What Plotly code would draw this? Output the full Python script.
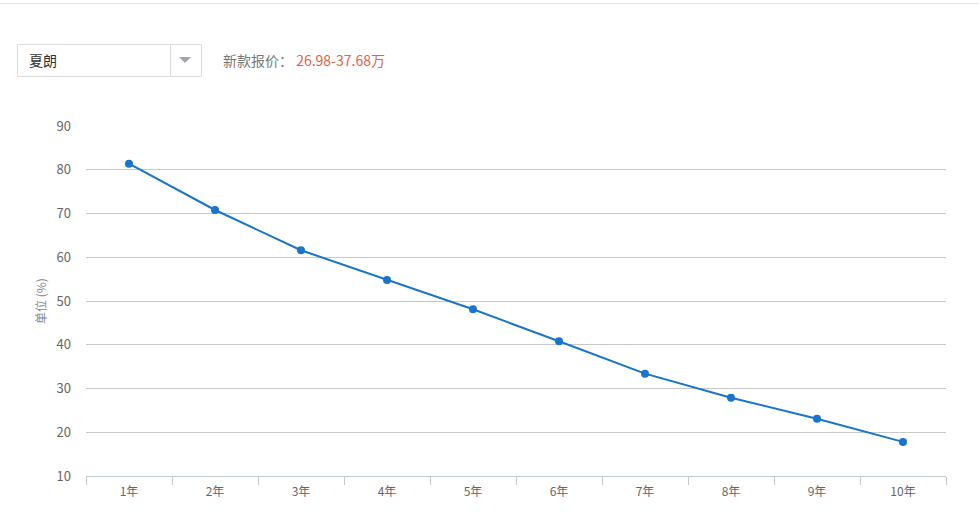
import plotly.graph_objects as go

categories = ["1年", "2年", "3年", "4年", "5年", "6年", "7年", "8年", "9年", "10年"]
values = [81.4, 70.8, 61.6, 54.8, 48.1, 40.8, 33.4, 27.9, 23.1, 17.8]
y_ticks = [10, 20, 30, 40, 50, 60, 70, 80, 90]

W, H = 979, 526
L, R, T, B = 86, 33, 126, 50
pw, ph = W - L - R, H - T - B


def px(x):
    return (x - L) / pw


def py(y):
    return (H - B - y) / ph


font = "Noto Sans CJK SC, Noto Sans, sans-serif"

fig = go.Figure()
fig.add_trace(go.Scatter(
    x=categories, y=values, mode="lines+markers",
    line=dict(color="#1874cd", width=2),
    marker=dict(color="#1874cd", size=8),
    hoverinfo="x+y", showlegend=False,
))

shapes = [
    # top separator line
    dict(type="line", xref="paper", yref="paper", x0=px(0), x1=px(W), y0=py(3.5), y1=py(3.5),
         line=dict(color="#e4e4e4", width=1)),
    # dropdown box
    dict(type="rect", xref="paper", yref="paper", x0=px(17.5), x1=px(201.5), y0=py(76.5), y1=py(44.5),
         line=dict(color="#dcdcdc", width=1), fillcolor="white"),
    dict(type="line", xref="paper", yref="paper", x0=px(170.5), x1=px(170.5), y0=py(76.5), y1=py(44.5),
         line=dict(color="#dcdcdc", width=1)),
    dict(type="path", xref="paper", yref="paper",
         path=f"M {px(179)} {py(57)} L {px(191)} {py(57)} L {px(185)} {py(63)} Z",
         line=dict(width=0), fillcolor="#a0a4ad"),
]

annotations = [
    dict(text="夏朗", xref="paper", yref="paper", x=px(27), y=py(60), xanchor="left", yanchor="middle",
         showarrow=False, font=dict(family=font, size=14, color="#333333")),
    dict(text='新款报价： <span style="color:#e8604a">26.98-37.68万</span>', xref="paper", yref="paper",
         x=px(221), y=py(60), xanchor="left", yanchor="middle",
         showarrow=False, font=dict(family=font, size=14, color="#777777")),
    dict(text="单位 (%)", xref="paper", yref="paper", x=px(40), y=0.5, xanchor="center", yanchor="middle",
         textangle=-90, showarrow=False, font=dict(family=font, size=12, color="#888888")),
]

fig.update_layout(
    width=W, height=H,
    margin=dict(l=L, r=R, t=T, b=B, pad=0),
    paper_bgcolor="white", plot_bgcolor="white",
    font=dict(family=font, size=12, color="#666666"),
    shapes=shapes, annotations=annotations,
    xaxis=dict(
        type="category", range=[-0.5, 9.5], tickson="boundaries",
        ticks="outside", ticklen=8, tickcolor="#c0c8d4", tickwidth=1,
        showline=True, linecolor="#c0c8d4", linewidth=1,
        showgrid=False, fixedrange=True, ticklabelstandoff=5,
        tickfont=dict(family=font, size=12, color="#666666"),
    ),
    yaxis=dict(
        range=[10, 90], tickvals=y_ticks, showgrid=True, gridcolor="#c8c8c8", gridwidth=1,
        zeroline=False, showline=False, ticks="", ticklabelstandoff=14,
        tickfont=dict(family=font, size=13, color="#666666"), fixedrange=True,
    ),
)

fig.write_html("out.html", config={"displayModeBar": False},
               post_script="document.body.style.margin='0';document.body.style.overflow='hidden';")
